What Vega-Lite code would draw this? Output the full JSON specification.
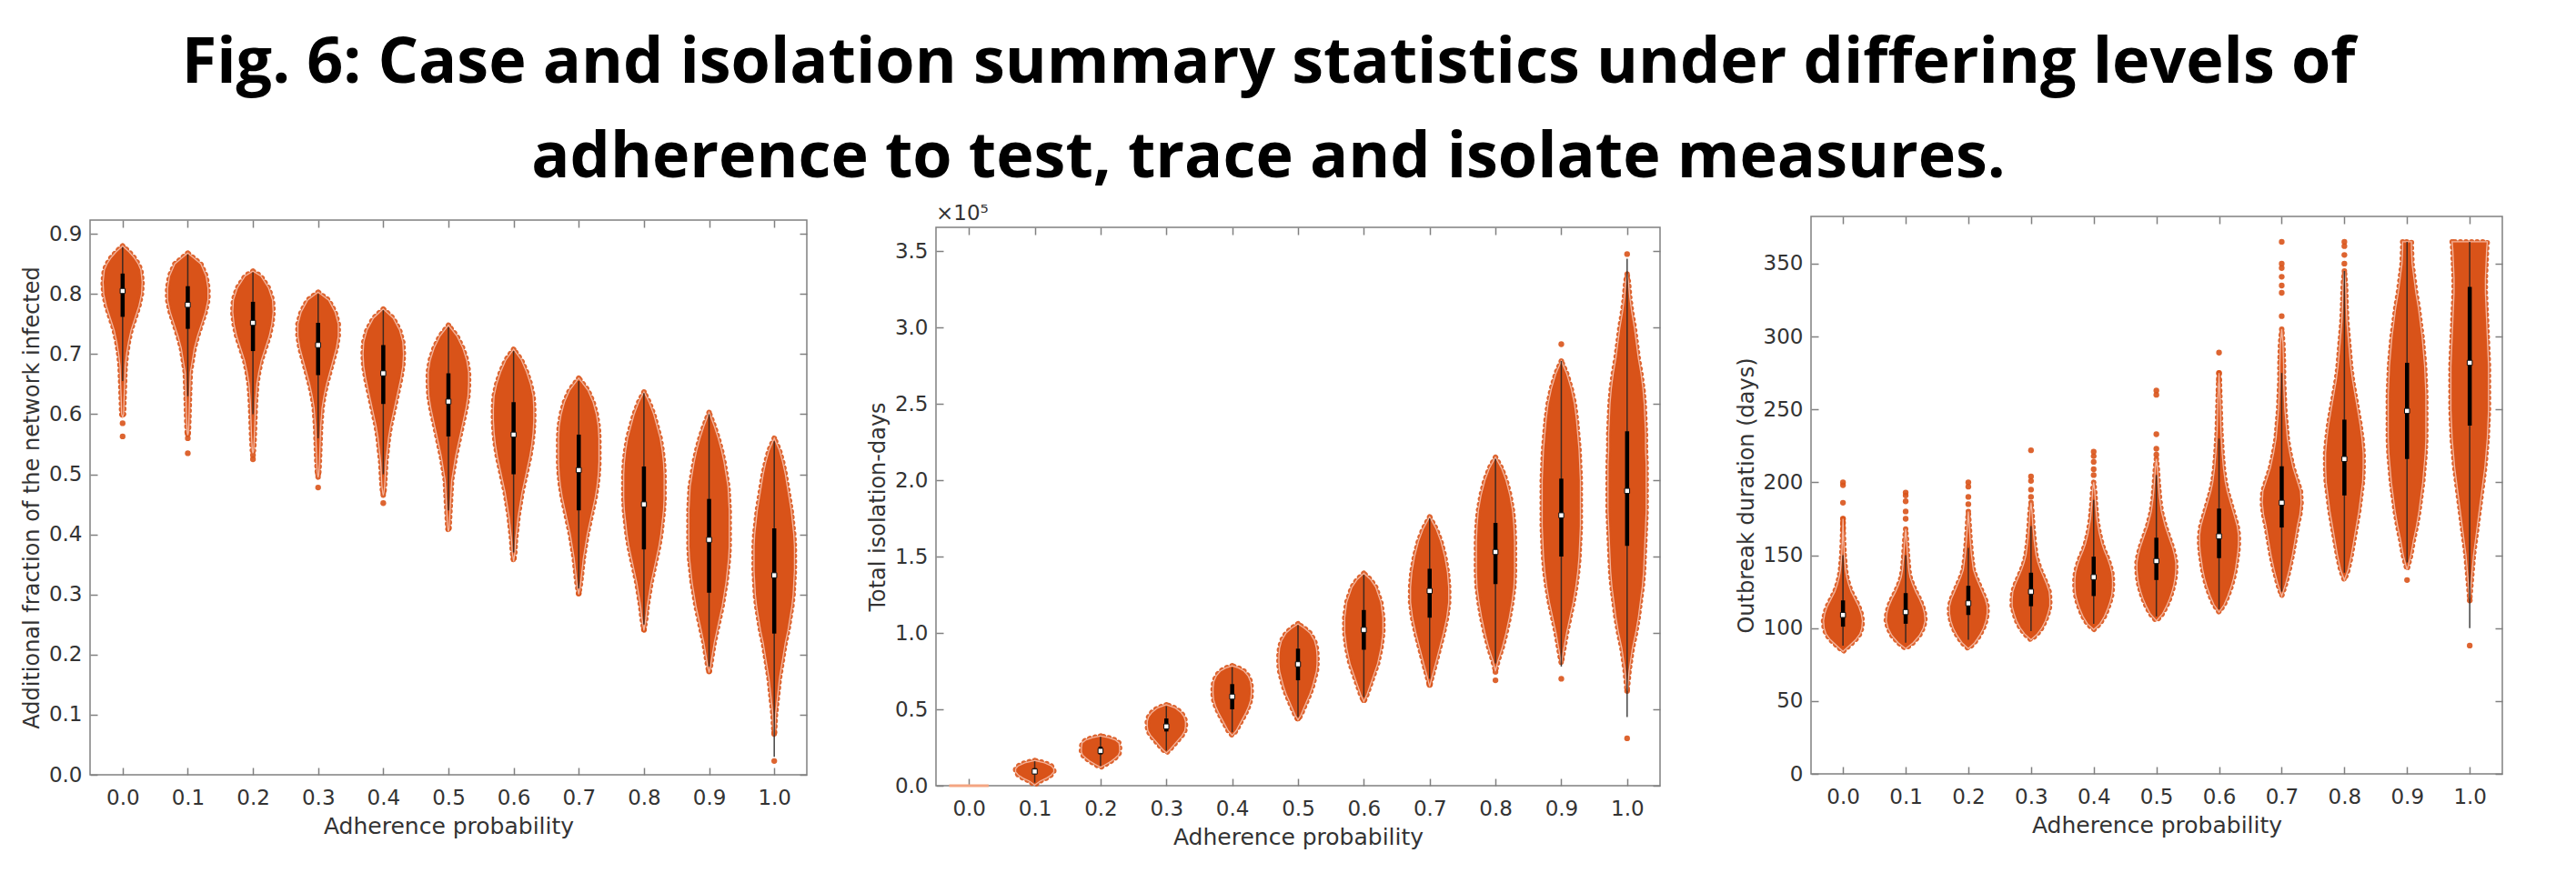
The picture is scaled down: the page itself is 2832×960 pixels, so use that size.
{
"$schema": "https://vega.github.io/schema/vega-lite/v6.json",
"padding": {"left": 22, "top": 34, "right": 20, "bottom": 10},
"background": "white",
"title": {"text": ["Fig. 6: Case and isolation summary statistics under differing levels of", "adherence to test, trace and isolate measures."], "font": "Open Sans", "fontSize": 70, "fontWeight": "bold", "color": "#000000", "anchor": "middle", "lineHeight": 104, "offset": 14, "dx": 7},
"config": {
 "font": "DejaVu Sans",
 "view": {"stroke": "#808080", "strokeWidth": 1.5},
 "axis": {"grid": false, "domain": false, "labelFlush": false, "tickColor": "#808080", "tickWidth": 1.5, "tickSize": -8, "labelFont": "DejaVu Sans", "labelFontSize": 23, "labelColor": "#333333", "titleFont": "DejaVu Sans", "titleFontSize": 25, "titleFontWeight": "normal", "titleColor": "#333333"},
 "axisX": {"labelPadding": 22, "titlePadding": 7},
 "axisY": {"labelPadding": 17, "titlePadding": 6, "titleFontSize": 24}
},
"datasets": {
 "viol1": [
  {"p":0,"v":0.595,"lo":0,"hi":0},{"p":0,"v":0.6,"lo":-0.0015,"hi":0.0015},{"p":0,"v":0.62,"lo":-0.002,"hi":0.002},{"p":0,"v":0.65,"lo":-0.003,"hi":0.003},{"p":0,"v":0.68,"lo":-0.004,"hi":0.004},{"p":0,"v":0.7,"lo":-0.006,"hi":0.006},{"p":0,"v":0.72,"lo":-0.009,"hi":0.009},{"p":0,"v":0.74,"lo":-0.013,"hi":0.013},{"p":0,"v":0.76,"lo":-0.019,"hi":0.019},{"p":0,"v":0.78,"lo":-0.025,"hi":0.025},{"p":0,"v":0.8,"lo":-0.029,"hi":0.029},{"p":0,"v":0.82,"lo":-0.03,"hi":0.03},{"p":0,"v":0.84,"lo":-0.028,"hi":0.028},{"p":0,"v":0.85,"lo":-0.024,"hi":0.024},{"p":0,"v":0.86,"lo":-0.018,"hi":0.018},{"p":0,"v":0.87,"lo":-0.01,"hi":0.01},{"p":0,"v":0.88,"lo":0,"hi":0},
  {"p":0.1,"v":0.565,"lo":0.1,"hi":0.1},{"p":0.1,"v":0.57,"lo":0.099,"hi":0.101},{"p":0.1,"v":0.6,"lo":0.098,"hi":0.102},{"p":0.1,"v":0.64,"lo":0.097,"hi":0.103},{"p":0.1,"v":0.67,"lo":0.096,"hi":0.104},{"p":0.1,"v":0.69,"lo":0.093,"hi":0.107},{"p":0.1,"v":0.71,"lo":0.09,"hi":0.11},{"p":0.1,"v":0.73,"lo":0.085,"hi":0.115},{"p":0.1,"v":0.75,"lo":0.079,"hi":0.121},{"p":0.1,"v":0.77,"lo":0.073,"hi":0.127},{"p":0.1,"v":0.79,"lo":0.069,"hi":0.131},{"p":0.1,"v":0.81,"lo":0.069,"hi":0.131},{"p":0.1,"v":0.83,"lo":0.072,"hi":0.128},{"p":0.1,"v":0.85,"lo":0.08,"hi":0.12},{"p":0.1,"v":0.868,"lo":0.1,"hi":0.1},
  {"p":0.2,"v":0.535,"lo":0.2,"hi":0.2},{"p":0.2,"v":0.54,"lo":0.199,"hi":0.201},{"p":0.2,"v":0.56,"lo":0.198,"hi":0.202},{"p":0.2,"v":0.59,"lo":0.197,"hi":0.203},{"p":0.2,"v":0.62,"lo":0.196,"hi":0.204},{"p":0.2,"v":0.65,"lo":0.194,"hi":0.206},{"p":0.2,"v":0.67,"lo":0.191,"hi":0.209},{"p":0.2,"v":0.69,"lo":0.187,"hi":0.213},{"p":0.2,"v":0.71,"lo":0.181,"hi":0.219},{"p":0.2,"v":0.73,"lo":0.175,"hi":0.225},{"p":0.2,"v":0.75,"lo":0.171,"hi":0.229},{"p":0.2,"v":0.77,"lo":0.169,"hi":0.231},{"p":0.2,"v":0.79,"lo":0.17,"hi":0.23},{"p":0.2,"v":0.81,"lo":0.176,"hi":0.224},{"p":0.2,"v":0.83,"lo":0.188,"hi":0.212},{"p":0.2,"v":0.838,"lo":0.2,"hi":0.2},
  {"p":0.3,"v":0.495,"lo":0.3,"hi":0.3},{"p":0.3,"v":0.5,"lo":0.299,"hi":0.301},{"p":0.3,"v":0.52,"lo":0.298,"hi":0.302},{"p":0.3,"v":0.55,"lo":0.297,"hi":0.303},{"p":0.3,"v":0.58,"lo":0.296,"hi":0.304},{"p":0.3,"v":0.61,"lo":0.294,"hi":0.306},{"p":0.3,"v":0.63,"lo":0.291,"hi":0.309},{"p":0.3,"v":0.65,"lo":0.287,"hi":0.313},{"p":0.3,"v":0.67,"lo":0.282,"hi":0.318},{"p":0.3,"v":0.69,"lo":0.277,"hi":0.323},{"p":0.3,"v":0.71,"lo":0.272,"hi":0.328},{"p":0.3,"v":0.73,"lo":0.269,"hi":0.331},{"p":0.3,"v":0.75,"lo":0.269,"hi":0.331},{"p":0.3,"v":0.77,"lo":0.274,"hi":0.326},{"p":0.3,"v":0.79,"lo":0.284,"hi":0.316},{"p":0.3,"v":0.803,"lo":0.3,"hi":0.3},
  {"p":0.4,"v":0.465,"lo":0.4,"hi":0.4},{"p":0.4,"v":0.47,"lo":0.399,"hi":0.401},{"p":0.4,"v":0.48,"lo":0.398,"hi":0.402},{"p":0.4,"v":0.5,"lo":0.397,"hi":0.403},{"p":0.4,"v":0.52,"lo":0.396,"hi":0.404},{"p":0.4,"v":0.54,"lo":0.394,"hi":0.406},{"p":0.4,"v":0.56,"lo":0.392,"hi":0.408},{"p":0.4,"v":0.58,"lo":0.389,"hi":0.411},{"p":0.4,"v":0.6,"lo":0.385,"hi":0.415},{"p":0.4,"v":0.62,"lo":0.381,"hi":0.419},{"p":0.4,"v":0.64,"lo":0.377,"hi":0.423},{"p":0.4,"v":0.66,"lo":0.373,"hi":0.427},{"p":0.4,"v":0.68,"lo":0.37,"hi":0.43},{"p":0.4,"v":0.7,"lo":0.369,"hi":0.431},{"p":0.4,"v":0.72,"lo":0.37,"hi":0.43},{"p":0.4,"v":0.74,"lo":0.375,"hi":0.425},{"p":0.4,"v":0.76,"lo":0.385,"hi":0.415},{"p":0.4,"v":0.775,"lo":0.4,"hi":0.4},
  {"p":0.5,"v":0.405,"lo":0.5,"hi":0.5},{"p":0.5,"v":0.41,"lo":0.499,"hi":0.501},{"p":0.5,"v":0.43,"lo":0.498,"hi":0.502},{"p":0.5,"v":0.45,"lo":0.497,"hi":0.503},{"p":0.5,"v":0.47,"lo":0.496,"hi":0.504},{"p":0.5,"v":0.49,"lo":0.495,"hi":0.505},{"p":0.5,"v":0.51,"lo":0.492,"hi":0.508},{"p":0.5,"v":0.53,"lo":0.489,"hi":0.511},{"p":0.5,"v":0.55,"lo":0.485,"hi":0.515},{"p":0.5,"v":0.57,"lo":0.481,"hi":0.519},{"p":0.5,"v":0.59,"lo":0.477,"hi":0.523},{"p":0.5,"v":0.61,"lo":0.473,"hi":0.527},{"p":0.5,"v":0.63,"lo":0.47,"hi":0.53},{"p":0.5,"v":0.65,"lo":0.469,"hi":0.531},{"p":0.5,"v":0.67,"lo":0.469,"hi":0.531},{"p":0.5,"v":0.69,"lo":0.472,"hi":0.528},{"p":0.5,"v":0.71,"lo":0.478,"hi":0.522},{"p":0.5,"v":0.73,"lo":0.487,"hi":0.513},{"p":0.5,"v":0.748,"lo":0.5,"hi":0.5},
  {"p":0.6,"v":0.355,"lo":0.6,"hi":0.6},{"p":0.6,"v":0.37,"lo":0.598,"hi":0.602},{"p":0.6,"v":0.39,"lo":0.597,"hi":0.603},{"p":0.6,"v":0.41,"lo":0.595,"hi":0.605},{"p":0.6,"v":0.43,"lo":0.593,"hi":0.607},{"p":0.6,"v":0.45,"lo":0.59,"hi":0.61},{"p":0.6,"v":0.47,"lo":0.587,"hi":0.613},{"p":0.6,"v":0.49,"lo":0.583,"hi":0.617},{"p":0.6,"v":0.51,"lo":0.579,"hi":0.621},{"p":0.6,"v":0.53,"lo":0.575,"hi":0.625},{"p":0.6,"v":0.55,"lo":0.572,"hi":0.628},{"p":0.6,"v":0.57,"lo":0.57,"hi":0.63},{"p":0.6,"v":0.59,"lo":0.569,"hi":0.631},{"p":0.6,"v":0.61,"lo":0.569,"hi":0.631},{"p":0.6,"v":0.63,"lo":0.57,"hi":0.63},{"p":0.6,"v":0.65,"lo":0.574,"hi":0.626},{"p":0.6,"v":0.67,"lo":0.58,"hi":0.62},{"p":0.6,"v":0.69,"lo":0.588,"hi":0.612},{"p":0.6,"v":0.708,"lo":0.6,"hi":0.6},
  {"p":0.7,"v":0.3,"lo":0.7,"hi":0.7},{"p":0.7,"v":0.32,"lo":0.697,"hi":0.703},{"p":0.7,"v":0.34,"lo":0.695,"hi":0.705},{"p":0.7,"v":0.36,"lo":0.693,"hi":0.707},{"p":0.7,"v":0.38,"lo":0.69,"hi":0.71},{"p":0.7,"v":0.4,"lo":0.687,"hi":0.713},{"p":0.7,"v":0.42,"lo":0.683,"hi":0.717},{"p":0.7,"v":0.44,"lo":0.679,"hi":0.721},{"p":0.7,"v":0.46,"lo":0.675,"hi":0.725},{"p":0.7,"v":0.48,"lo":0.672,"hi":0.728},{"p":0.7,"v":0.5,"lo":0.67,"hi":0.73},{"p":0.7,"v":0.52,"lo":0.669,"hi":0.731},{"p":0.7,"v":0.54,"lo":0.669,"hi":0.731},{"p":0.7,"v":0.56,"lo":0.669,"hi":0.731},{"p":0.7,"v":0.58,"lo":0.67,"hi":0.73},{"p":0.7,"v":0.6,"lo":0.673,"hi":0.727},{"p":0.7,"v":0.62,"lo":0.678,"hi":0.722},{"p":0.7,"v":0.64,"lo":0.686,"hi":0.714},{"p":0.7,"v":0.66,"lo":0.7,"hi":0.7},
  {"p":0.8,"v":0.24,"lo":0.8,"hi":0.8},{"p":0.8,"v":0.26,"lo":0.797,"hi":0.803},{"p":0.8,"v":0.28,"lo":0.795,"hi":0.805},{"p":0.8,"v":0.3,"lo":0.792,"hi":0.808},{"p":0.8,"v":0.32,"lo":0.789,"hi":0.811},{"p":0.8,"v":0.34,"lo":0.785,"hi":0.815},{"p":0.8,"v":0.36,"lo":0.781,"hi":0.819},{"p":0.8,"v":0.38,"lo":0.777,"hi":0.823},{"p":0.8,"v":0.4,"lo":0.774,"hi":0.826},{"p":0.8,"v":0.42,"lo":0.772,"hi":0.828},{"p":0.8,"v":0.44,"lo":0.77,"hi":0.83},{"p":0.8,"v":0.46,"lo":0.769,"hi":0.831},{"p":0.8,"v":0.48,"lo":0.769,"hi":0.831},{"p":0.8,"v":0.5,"lo":0.769,"hi":0.831},{"p":0.8,"v":0.52,"lo":0.77,"hi":0.83},{"p":0.8,"v":0.54,"lo":0.772,"hi":0.828},{"p":0.8,"v":0.56,"lo":0.775,"hi":0.825},{"p":0.8,"v":0.58,"lo":0.78,"hi":0.82},{"p":0.8,"v":0.6,"lo":0.785,"hi":0.815},{"p":0.8,"v":0.62,"lo":0.792,"hi":0.808},{"p":0.8,"v":0.637,"lo":0.8,"hi":0.8},
  {"p":0.9,"v":0.17,"lo":0.9,"hi":0.9},{"p":0.9,"v":0.18,"lo":0.898,"hi":0.902},{"p":0.9,"v":0.2,"lo":0.895,"hi":0.905},{"p":0.9,"v":0.22,"lo":0.892,"hi":0.908},{"p":0.9,"v":0.24,"lo":0.888,"hi":0.912},{"p":0.9,"v":0.26,"lo":0.884,"hi":0.916},{"p":0.9,"v":0.28,"lo":0.88,"hi":0.92},{"p":0.9,"v":0.3,"lo":0.877,"hi":0.923},{"p":0.9,"v":0.32,"lo":0.874,"hi":0.926},{"p":0.9,"v":0.34,"lo":0.872,"hi":0.928},{"p":0.9,"v":0.36,"lo":0.87,"hi":0.93},{"p":0.9,"v":0.38,"lo":0.869,"hi":0.931},{"p":0.9,"v":0.4,"lo":0.869,"hi":0.931},{"p":0.9,"v":0.42,"lo":0.869,"hi":0.931},{"p":0.9,"v":0.44,"lo":0.869,"hi":0.931},{"p":0.9,"v":0.46,"lo":0.87,"hi":0.93},{"p":0.9,"v":0.48,"lo":0.871,"hi":0.929},{"p":0.9,"v":0.5,"lo":0.874,"hi":0.926},{"p":0.9,"v":0.52,"lo":0.877,"hi":0.923},{"p":0.9,"v":0.54,"lo":0.881,"hi":0.919},{"p":0.9,"v":0.56,"lo":0.886,"hi":0.914},{"p":0.9,"v":0.58,"lo":0.892,"hi":0.908},{"p":0.9,"v":0.603,"lo":0.9,"hi":0.9},
  {"p":1,"v":0.065,"lo":1,"hi":1},{"p":1,"v":0.08,"lo":0.999,"hi":1.001},{"p":1,"v":0.1,"lo":0.998,"hi":1.002},{"p":1,"v":0.12,"lo":0.996,"hi":1.004},{"p":1,"v":0.14,"lo":0.994,"hi":1.006},{"p":1,"v":0.16,"lo":0.992,"hi":1.008},{"p":1,"v":0.18,"lo":0.989,"hi":1.011},{"p":1,"v":0.2,"lo":0.986,"hi":1.014},{"p":1,"v":0.22,"lo":0.983,"hi":1.017},{"p":1,"v":0.24,"lo":0.979,"hi":1.021},{"p":1,"v":0.26,"lo":0.976,"hi":1.024},{"p":1,"v":0.28,"lo":0.973,"hi":1.027},{"p":1,"v":0.3,"lo":0.971,"hi":1.029},{"p":1,"v":0.32,"lo":0.97,"hi":1.03},{"p":1,"v":0.34,"lo":0.969,"hi":1.031},{"p":1,"v":0.36,"lo":0.969,"hi":1.031},{"p":1,"v":0.38,"lo":0.969,"hi":1.031},{"p":1,"v":0.4,"lo":0.97,"hi":1.03},{"p":1,"v":0.42,"lo":0.972,"hi":1.028},{"p":1,"v":0.44,"lo":0.974,"hi":1.026},{"p":1,"v":0.46,"lo":0.977,"hi":1.023},{"p":1,"v":0.48,"lo":0.98,"hi":1.02},{"p":1,"v":0.5,"lo":0.983,"hi":1.017},{"p":1,"v":0.52,"lo":0.987,"hi":1.013},{"p":1,"v":0.54,"lo":0.992,"hi":1.008},{"p":1,"v":0.56,"lo":1,"hi":1}
 ],
 "box1": [
  {"p":0,"q1":0.762,"med":0.805,"q3":0.834,"wlo":0.655,"whi":0.878},
  {"p":0.1,"q1":0.742,"med":0.782,"q3":0.813,"wlo":0.63,"whi":0.866},
  {"p":0.2,"q1":0.705,"med":0.752,"q3":0.787,"wlo":0.6,"whi":0.836},
  {"p":0.3,"q1":0.665,"med":0.715,"q3":0.752,"wlo":0.56,"whi":0.8},
  {"p":0.4,"q1":0.617,"med":0.668,"q3":0.715,"wlo":0.5,"whi":0.773},
  {"p":0.5,"q1":0.563,"med":0.621,"q3":0.668,"wlo":0.44,"whi":0.745},
  {"p":0.6,"q1":0.5,"med":0.566,"q3":0.62,"wlo":0.37,"whi":0.705},
  {"p":0.7,"q1":0.44,"med":0.507,"q3":0.566,"wlo":0.31,"whi":0.655},
  {"p":0.8,"q1":0.375,"med":0.45,"q3":0.513,"wlo":0.25,"whi":0.635},
  {"p":0.9,"q1":0.303,"med":0.391,"q3":0.459,"wlo":0.18,"whi":0.6},
  {"p":1,"q1":0.235,"med":0.332,"q3":0.41,"wlo":0.03,"whi":0.555}
 ],
 "out1": [
  {"p":0,"v":0.585},{"p":0,"v":0.563},{"p":0,"v":0.6},{"p":0.1,"v":0.535},{"p":0.1,"v":0.56},{"p":0.1,"v":0.567},{"p":0.2,"v":0.525},{"p":0.2,"v":0.532},{"p":0.3,"v":0.478},{"p":0.3,"v":0.5},{"p":0.4,"v":0.452},{"p":0.4,"v":0.47},{"p":0.5,"v":0.41},{"p":0.6,"v":0.36},{"p":0.7,"v":0.302},{"p":0.8,"v":0.242},{"p":0.9,"v":0.172},{"p":1,"v":0.023},{"p":1,"v":0.07}
 ],
 "viol2": [
  {"p":0.1,"v":0.005,"lo":0.1,"hi":0.1},{"p":0.1,"v":0.03,"lo":0.092,"hi":0.108},{"p":0.1,"v":0.05,"lo":0.082,"hi":0.118},{"p":0.1,"v":0.07,"lo":0.075,"hi":0.125},{"p":0.1,"v":0.09,"lo":0.071,"hi":0.129},{"p":0.1,"v":0.11,"lo":0.071,"hi":0.129},{"p":0.1,"v":0.13,"lo":0.075,"hi":0.125},{"p":0.1,"v":0.15,"lo":0.085,"hi":0.115},{"p":0.1,"v":0.165,"lo":0.1,"hi":0.1},
  {"p":0.2,"v":0.12,"lo":0.2,"hi":0.2},{"p":0.2,"v":0.14,"lo":0.192,"hi":0.208},{"p":0.2,"v":0.16,"lo":0.184,"hi":0.216},{"p":0.2,"v":0.18,"lo":0.178,"hi":0.222},{"p":0.2,"v":0.2,"lo":0.173,"hi":0.227},{"p":0.2,"v":0.22,"lo":0.171,"hi":0.229},{"p":0.2,"v":0.25,"lo":0.171,"hi":0.229},{"p":0.2,"v":0.28,"lo":0.172,"hi":0.228},{"p":0.2,"v":0.3,"lo":0.178,"hi":0.222},{"p":0.2,"v":0.315,"lo":0.188,"hi":0.212},{"p":0.2,"v":0.325,"lo":0.2,"hi":0.2},
  {"p":0.3,"v":0.215,"lo":0.3,"hi":0.3},{"p":0.3,"v":0.24,"lo":0.294,"hi":0.306},{"p":0.3,"v":0.27,"lo":0.288,"hi":0.312},{"p":0.3,"v":0.3,"lo":0.282,"hi":0.318},{"p":0.3,"v":0.33,"lo":0.276,"hi":0.324},{"p":0.3,"v":0.36,"lo":0.272,"hi":0.328},{"p":0.3,"v":0.39,"lo":0.271,"hi":0.329},{"p":0.3,"v":0.42,"lo":0.271,"hi":0.329},{"p":0.3,"v":0.45,"lo":0.273,"hi":0.327},{"p":0.3,"v":0.48,"lo":0.278,"hi":0.322},{"p":0.3,"v":0.51,"lo":0.287,"hi":0.313},{"p":0.3,"v":0.53,"lo":0.3,"hi":0.3},
  {"p":0.4,"v":0.33,"lo":0.4,"hi":0.4},{"p":0.4,"v":0.36,"lo":0.394,"hi":0.406},{"p":0.4,"v":0.4,"lo":0.389,"hi":0.411},{"p":0.4,"v":0.44,"lo":0.384,"hi":0.416},{"p":0.4,"v":0.48,"lo":0.379,"hi":0.421},{"p":0.4,"v":0.52,"lo":0.375,"hi":0.425},{"p":0.4,"v":0.56,"lo":0.372,"hi":0.428},{"p":0.4,"v":0.6,"lo":0.371,"hi":0.429},{"p":0.4,"v":0.64,"lo":0.371,"hi":0.429},{"p":0.4,"v":0.68,"lo":0.372,"hi":0.428},{"p":0.4,"v":0.72,"lo":0.376,"hi":0.424},{"p":0.4,"v":0.75,"lo":0.382,"hi":0.418},{"p":0.4,"v":0.77,"lo":0.39,"hi":0.41},{"p":0.4,"v":0.785,"lo":0.4,"hi":0.4},
  {"p":0.5,"v":0.43,"lo":0.5,"hi":0.5},{"p":0.5,"v":0.46,"lo":0.496,"hi":0.504},{"p":0.5,"v":0.5,"lo":0.492,"hi":0.508},{"p":0.5,"v":0.55,"lo":0.487,"hi":0.513},{"p":0.5,"v":0.6,"lo":0.482,"hi":0.518},{"p":0.5,"v":0.65,"lo":0.478,"hi":0.522},{"p":0.5,"v":0.7,"lo":0.475,"hi":0.525},{"p":0.5,"v":0.75,"lo":0.472,"hi":0.528},{"p":0.5,"v":0.8,"lo":0.471,"hi":0.529},{"p":0.5,"v":0.85,"lo":0.471,"hi":0.529},{"p":0.5,"v":0.9,"lo":0.472,"hi":0.528},{"p":0.5,"v":0.95,"lo":0.475,"hi":0.525},{"p":0.5,"v":1.0,"lo":0.482,"hi":0.518},{"p":0.5,"v":1.03,"lo":0.49,"hi":0.51},{"p":0.5,"v":1.06,"lo":0.5,"hi":0.5},
  {"p":0.6,"v":0.55,"lo":0.6,"hi":0.6},{"p":0.6,"v":0.6,"lo":0.595,"hi":0.605},{"p":0.6,"v":0.7,"lo":0.587,"hi":0.613},{"p":0.6,"v":0.8,"lo":0.579,"hi":0.621},{"p":0.6,"v":0.9,"lo":0.574,"hi":0.626},{"p":0.6,"v":1.0,"lo":0.571,"hi":0.629},{"p":0.6,"v":1.1,"lo":0.571,"hi":0.629},{"p":0.6,"v":1.2,"lo":0.574,"hi":0.626},{"p":0.6,"v":1.3,"lo":0.582,"hi":0.618},{"p":0.6,"v":1.35,"lo":0.59,"hi":0.61},{"p":0.6,"v":1.39,"lo":0.6,"hi":0.6},
  {"p":0.7,"v":0.65,"lo":0.7,"hi":0.7},{"p":0.7,"v":0.72,"lo":0.696,"hi":0.704},{"p":0.7,"v":0.8,"lo":0.691,"hi":0.709},{"p":0.7,"v":0.9,"lo":0.685,"hi":0.715},{"p":0.7,"v":1.0,"lo":0.679,"hi":0.721},{"p":0.7,"v":1.1,"lo":0.674,"hi":0.726},{"p":0.7,"v":1.2,"lo":0.671,"hi":0.729},{"p":0.7,"v":1.3,"lo":0.671,"hi":0.729},{"p":0.7,"v":1.4,"lo":0.673,"hi":0.727},{"p":0.7,"v":1.5,"lo":0.677,"hi":0.723},{"p":0.7,"v":1.6,"lo":0.683,"hi":0.717},{"p":0.7,"v":1.68,"lo":0.69,"hi":0.71},{"p":0.7,"v":1.76,"lo":0.7,"hi":0.7},
  {"p":0.8,"v":0.75,"lo":0.8,"hi":0.8},{"p":0.8,"v":0.82,"lo":0.796,"hi":0.804},{"p":0.8,"v":0.9,"lo":0.79,"hi":0.81},{"p":0.8,"v":1.0,"lo":0.784,"hi":0.816},{"p":0.8,"v":1.1,"lo":0.779,"hi":0.821},{"p":0.8,"v":1.2,"lo":0.775,"hi":0.825},{"p":0.8,"v":1.3,"lo":0.772,"hi":0.828},{"p":0.8,"v":1.4,"lo":0.771,"hi":0.829},{"p":0.8,"v":1.5,"lo":0.771,"hi":0.829},{"p":0.8,"v":1.6,"lo":0.771,"hi":0.829},{"p":0.8,"v":1.7,"lo":0.772,"hi":0.828},{"p":0.8,"v":1.8,"lo":0.774,"hi":0.826},{"p":0.8,"v":1.9,"lo":0.778,"hi":0.822},{"p":0.8,"v":2.0,"lo":0.784,"hi":0.816},{"p":0.8,"v":2.08,"lo":0.791,"hi":0.809},{"p":0.8,"v":2.15,"lo":0.8,"hi":0.8},
  {"p":0.9,"v":0.8,"lo":0.9,"hi":0.9},{"p":0.9,"v":0.9,"lo":0.896,"hi":0.904},{"p":0.9,"v":1.0,"lo":0.892,"hi":0.908},{"p":0.9,"v":1.1,"lo":0.887,"hi":0.913},{"p":0.9,"v":1.2,"lo":0.882,"hi":0.918},{"p":0.9,"v":1.3,"lo":0.878,"hi":0.922},{"p":0.9,"v":1.4,"lo":0.875,"hi":0.925},{"p":0.9,"v":1.5,"lo":0.873,"hi":0.927},{"p":0.9,"v":1.6,"lo":0.872,"hi":0.928},{"p":0.9,"v":1.7,"lo":0.871,"hi":0.929},{"p":0.9,"v":1.8,"lo":0.871,"hi":0.929},{"p":0.9,"v":1.9,"lo":0.871,"hi":0.929},{"p":0.9,"v":2.0,"lo":0.871,"hi":0.929},{"p":0.9,"v":2.1,"lo":0.872,"hi":0.928},{"p":0.9,"v":2.2,"lo":0.873,"hi":0.927},{"p":0.9,"v":2.3,"lo":0.875,"hi":0.925},{"p":0.9,"v":2.4,"lo":0.877,"hi":0.923},{"p":0.9,"v":2.5,"lo":0.88,"hi":0.92},{"p":0.9,"v":2.6,"lo":0.885,"hi":0.915},{"p":0.9,"v":2.7,"lo":0.892,"hi":0.908},{"p":0.9,"v":2.78,"lo":0.9,"hi":0.9},
  {"p":1,"v":0.62,"lo":1,"hi":1},{"p":1,"v":0.75,"lo":0.997,"hi":1.003},{"p":1,"v":0.9,"lo":0.992,"hi":1.008},{"p":1,"v":1.0,"lo":0.987,"hi":1.013},{"p":1,"v":1.1,"lo":0.983,"hi":1.017},{"p":1,"v":1.2,"lo":0.98,"hi":1.02},{"p":1,"v":1.3,"lo":0.977,"hi":1.023},{"p":1,"v":1.4,"lo":0.975,"hi":1.025},{"p":1,"v":1.5,"lo":0.974,"hi":1.026},{"p":1,"v":1.6,"lo":0.973,"hi":1.027},{"p":1,"v":1.7,"lo":0.972,"hi":1.028},{"p":1,"v":1.8,"lo":0.971,"hi":1.029},{"p":1,"v":1.9,"lo":0.971,"hi":1.029},{"p":1,"v":2.0,"lo":0.971,"hi":1.029},{"p":1,"v":2.1,"lo":0.971,"hi":1.029},{"p":1,"v":2.2,"lo":0.972,"hi":1.028},{"p":1,"v":2.3,"lo":0.972,"hi":1.028},{"p":1,"v":2.4,"lo":0.973,"hi":1.027},{"p":1,"v":2.5,"lo":0.974,"hi":1.026},{"p":1,"v":2.6,"lo":0.976,"hi":1.024},{"p":1,"v":2.7,"lo":0.979,"hi":1.021},{"p":1,"v":2.8,"lo":0.983,"hi":1.017},{"p":1,"v":2.9,"lo":0.986,"hi":1.014},{"p":1,"v":3.0,"lo":0.989,"hi":1.011},{"p":1,"v":3.1,"lo":0.993,"hi":1.007},{"p":1,"v":3.2,"lo":0.996,"hi":1.004},{"p":1,"v":3.3,"lo":0.998,"hi":1.002},{"p":1,"v":3.35,"lo":1,"hi":1}
 ],
 "box2": [
  {"p":0.1,"q1":0.075,"med":0.093,"q3":0.115,"wlo":0.02,"whi":0.16},
  {"p":0.2,"q1":0.205,"med":0.228,"q3":0.255,"wlo":0.13,"whi":0.32},
  {"p":0.3,"q1":0.355,"med":0.388,"q3":0.44,"wlo":0.23,"whi":0.52},
  {"p":0.4,"q1":0.5,"med":0.583,"q3":0.665,"wlo":0.35,"whi":0.775},
  {"p":0.5,"q1":0.69,"med":0.795,"q3":0.897,"wlo":0.45,"whi":1.05},
  {"p":0.6,"q1":0.89,"med":1.02,"q3":1.15,"wlo":0.58,"whi":1.38},
  {"p":0.7,"q1":1.1,"med":1.275,"q3":1.42,"wlo":0.7,"whi":1.75},
  {"p":0.8,"q1":1.32,"med":1.53,"q3":1.72,"wlo":0.8,"whi":2.14},
  {"p":0.9,"q1":1.5,"med":1.77,"q3":2.01,"wlo":0.78,"whi":2.78},
  {"p":1,"q1":1.57,"med":1.93,"q3":2.32,"wlo":0.45,"whi":3.45}
 ],
 "out2": [
  {"p":0.5,"v":0.44},{"p":0.6,"v":0.56},{"p":0.7,"v":0.66},{"p":0.7,"v":0.68},{"p":0.8,"v":0.69},{"p":0.8,"v":0.745},{"p":0.8,"v":0.8},{"p":0.9,"v":0.7},{"p":0.9,"v":0.84},{"p":0.9,"v":2.73},{"p":0.9,"v":2.89},{"p":1,"v":0.31},{"p":1,"v":0.62},{"p":1,"v":3.32},{"p":1,"v":3.48}
 ],
 "zero2": [{"lo":-0.03,"hi":0.03,"v":0}],
 "viol3": [
  {"p":0,"v":84,"lo":0,"hi":0},{"p":0,"v":88,"lo":-0.01,"hi":0.01},{"p":0,"v":92,"lo":-0.02,"hi":0.02},{"p":0,"v":96,"lo":-0.027,"hi":0.027},{"p":0,"v":100,"lo":-0.03,"hi":0.03},{"p":0,"v":105,"lo":-0.031,"hi":0.031},{"p":0,"v":110,"lo":-0.029,"hi":0.029},{"p":0,"v":115,"lo":-0.025,"hi":0.025},{"p":0,"v":120,"lo":-0.019,"hi":0.019},{"p":0,"v":125,"lo":-0.013,"hi":0.013},{"p":0,"v":130,"lo":-0.009,"hi":0.009},{"p":0,"v":135,"lo":-0.006,"hi":0.006},{"p":0,"v":140,"lo":-0.004,"hi":0.004},{"p":0,"v":150,"lo":-0.002,"hi":0.002},{"p":0,"v":160,"lo":-0.001,"hi":0.001},{"p":0,"v":175,"lo":0,"hi":0},
  {"p":0.1,"v":86,"lo":0.1,"hi":0.1},{"p":0.1,"v":90,"lo":0.088,"hi":0.112},{"p":0.1,"v":95,"lo":0.078,"hi":0.122},{"p":0.1,"v":100,"lo":0.072,"hi":0.128},{"p":0.1,"v":105,"lo":0.069,"hi":0.131},{"p":0.1,"v":110,"lo":0.07,"hi":0.13},{"p":0.1,"v":115,"lo":0.073,"hi":0.127},{"p":0.1,"v":120,"lo":0.078,"hi":0.122},{"p":0.1,"v":125,"lo":0.084,"hi":0.116},{"p":0.1,"v":130,"lo":0.089,"hi":0.111},{"p":0.1,"v":135,"lo":0.093,"hi":0.107},{"p":0.1,"v":140,"lo":0.095,"hi":0.105},{"p":0.1,"v":150,"lo":0.097,"hi":0.103},{"p":0.1,"v":160,"lo":0.0985,"hi":0.1015},{"p":0.1,"v":168,"lo":0.1,"hi":0.1},
  {"p":0.2,"v":86,"lo":0.2,"hi":0.2},{"p":0.2,"v":90,"lo":0.19,"hi":0.21},{"p":0.2,"v":95,"lo":0.182,"hi":0.218},{"p":0.2,"v":100,"lo":0.176,"hi":0.224},{"p":0.2,"v":105,"lo":0.172,"hi":0.228},{"p":0.2,"v":110,"lo":0.17,"hi":0.23},{"p":0.2,"v":115,"lo":0.17,"hi":0.23},{"p":0.2,"v":120,"lo":0.173,"hi":0.227},{"p":0.2,"v":125,"lo":0.178,"hi":0.222},{"p":0.2,"v":130,"lo":0.183,"hi":0.217},{"p":0.2,"v":135,"lo":0.188,"hi":0.212},{"p":0.2,"v":140,"lo":0.192,"hi":0.208},{"p":0.2,"v":150,"lo":0.195,"hi":0.205},{"p":0.2,"v":160,"lo":0.197,"hi":0.203},{"p":0.2,"v":170,"lo":0.1985,"hi":0.2015},{"p":0.2,"v":180,"lo":0.2,"hi":0.2},
  {"p":0.3,"v":92,"lo":0.3,"hi":0.3},{"p":0.3,"v":96,"lo":0.29,"hi":0.31},{"p":0.3,"v":100,"lo":0.283,"hi":0.317},{"p":0.3,"v":105,"lo":0.277,"hi":0.323},{"p":0.3,"v":110,"lo":0.273,"hi":0.327},{"p":0.3,"v":115,"lo":0.27,"hi":0.33},{"p":0.3,"v":120,"lo":0.27,"hi":0.33},{"p":0.3,"v":125,"lo":0.271,"hi":0.329},{"p":0.3,"v":130,"lo":0.275,"hi":0.325},{"p":0.3,"v":135,"lo":0.28,"hi":0.32},{"p":0.3,"v":140,"lo":0.285,"hi":0.315},{"p":0.3,"v":145,"lo":0.289,"hi":0.311},{"p":0.3,"v":150,"lo":0.292,"hi":0.308},{"p":0.3,"v":160,"lo":0.295,"hi":0.305},{"p":0.3,"v":170,"lo":0.297,"hi":0.303},{"p":0.3,"v":180,"lo":0.2985,"hi":0.3015},{"p":0.3,"v":186,"lo":0.3,"hi":0.3},
  {"p":0.4,"v":99,"lo":0.4,"hi":0.4},{"p":0.4,"v":103,"lo":0.39,"hi":0.41},{"p":0.4,"v":108,"lo":0.383,"hi":0.417},{"p":0.4,"v":113,"lo":0.378,"hi":0.422},{"p":0.4,"v":118,"lo":0.374,"hi":0.426},{"p":0.4,"v":123,"lo":0.371,"hi":0.429},{"p":0.4,"v":128,"lo":0.37,"hi":0.43},{"p":0.4,"v":133,"lo":0.37,"hi":0.43},{"p":0.4,"v":138,"lo":0.371,"hi":0.429},{"p":0.4,"v":143,"lo":0.374,"hi":0.426},{"p":0.4,"v":148,"lo":0.378,"hi":0.422},{"p":0.4,"v":153,"lo":0.383,"hi":0.417},{"p":0.4,"v":158,"lo":0.387,"hi":0.413},{"p":0.4,"v":165,"lo":0.391,"hi":0.409},{"p":0.4,"v":175,"lo":0.395,"hi":0.405},{"p":0.4,"v":185,"lo":0.397,"hi":0.403},{"p":0.4,"v":195,"lo":0.3985,"hi":0.4015},{"p":0.4,"v":200,"lo":0.4,"hi":0.4},
  {"p":0.5,"v":105,"lo":0.5,"hi":0.5},{"p":0.5,"v":110,"lo":0.49,"hi":0.51},{"p":0.5,"v":115,"lo":0.484,"hi":0.516},{"p":0.5,"v":120,"lo":0.479,"hi":0.521},{"p":0.5,"v":125,"lo":0.475,"hi":0.525},{"p":0.5,"v":130,"lo":0.472,"hi":0.528},{"p":0.5,"v":135,"lo":0.47,"hi":0.53},{"p":0.5,"v":140,"lo":0.469,"hi":0.531},{"p":0.5,"v":145,"lo":0.469,"hi":0.531},{"p":0.5,"v":150,"lo":0.471,"hi":0.529},{"p":0.5,"v":155,"lo":0.474,"hi":0.526},{"p":0.5,"v":160,"lo":0.478,"hi":0.522},{"p":0.5,"v":165,"lo":0.482,"hi":0.518},{"p":0.5,"v":170,"lo":0.486,"hi":0.514},{"p":0.5,"v":175,"lo":0.489,"hi":0.511},{"p":0.5,"v":180,"lo":0.492,"hi":0.508},{"p":0.5,"v":190,"lo":0.495,"hi":0.505},{"p":0.5,"v":200,"lo":0.497,"hi":0.503},{"p":0.5,"v":210,"lo":0.4985,"hi":0.5015},{"p":0.5,"v":216,"lo":0.5,"hi":0.5},
  {"p":0.6,"v":111,"lo":0.6,"hi":0.6},{"p":0.6,"v":116,"lo":0.592,"hi":0.608},{"p":0.6,"v":122,"lo":0.586,"hi":0.614},{"p":0.6,"v":128,"lo":0.581,"hi":0.619},{"p":0.6,"v":134,"lo":0.577,"hi":0.623},{"p":0.6,"v":140,"lo":0.574,"hi":0.626},{"p":0.6,"v":146,"lo":0.572,"hi":0.628},{"p":0.6,"v":152,"lo":0.57,"hi":0.63},{"p":0.6,"v":158,"lo":0.569,"hi":0.631},{"p":0.6,"v":164,"lo":0.569,"hi":0.631},{"p":0.6,"v":170,"lo":0.571,"hi":0.629},{"p":0.6,"v":176,"lo":0.575,"hi":0.625},{"p":0.6,"v":182,"lo":0.579,"hi":0.621},{"p":0.6,"v":188,"lo":0.583,"hi":0.617},{"p":0.6,"v":194,"lo":0.587,"hi":0.613},{"p":0.6,"v":200,"lo":0.59,"hi":0.61},{"p":0.6,"v":210,"lo":0.593,"hi":0.607},{"p":0.6,"v":220,"lo":0.595,"hi":0.605},{"p":0.6,"v":235,"lo":0.597,"hi":0.603},{"p":0.6,"v":250,"lo":0.598,"hi":0.602},{"p":0.6,"v":265,"lo":0.599,"hi":0.601},{"p":0.6,"v":275,"lo":0.6,"hi":0.6},
  {"p":0.7,"v":122,"lo":0.7,"hi":0.7},{"p":0.7,"v":130,"lo":0.694,"hi":0.706},{"p":0.7,"v":140,"lo":0.688,"hi":0.712},{"p":0.7,"v":150,"lo":0.683,"hi":0.717},{"p":0.7,"v":160,"lo":0.679,"hi":0.721},{"p":0.7,"v":170,"lo":0.675,"hi":0.725},{"p":0.7,"v":178,"lo":0.671,"hi":0.729},{"p":0.7,"v":186,"lo":0.669,"hi":0.731},{"p":0.7,"v":194,"lo":0.67,"hi":0.73},{"p":0.7,"v":202,"lo":0.676,"hi":0.724},{"p":0.7,"v":210,"lo":0.682,"hi":0.718},{"p":0.7,"v":220,"lo":0.687,"hi":0.713},{"p":0.7,"v":230,"lo":0.691,"hi":0.709},{"p":0.7,"v":240,"lo":0.693,"hi":0.707},{"p":0.7,"v":250,"lo":0.695,"hi":0.705},{"p":0.7,"v":260,"lo":0.696,"hi":0.704},{"p":0.7,"v":270,"lo":0.697,"hi":0.703},{"p":0.7,"v":280,"lo":0.697,"hi":0.703},{"p":0.7,"v":295,"lo":0.698,"hi":0.702},{"p":0.7,"v":305,"lo":0.7,"hi":0.7},
  {"p":0.8,"v":133,"lo":0.8,"hi":0.8},{"p":0.8,"v":140,"lo":0.794,"hi":0.806},{"p":0.8,"v":150,"lo":0.789,"hi":0.811},{"p":0.8,"v":160,"lo":0.785,"hi":0.815},{"p":0.8,"v":170,"lo":0.781,"hi":0.819},{"p":0.8,"v":180,"lo":0.777,"hi":0.823},{"p":0.8,"v":190,"lo":0.774,"hi":0.826},{"p":0.8,"v":200,"lo":0.771,"hi":0.829},{"p":0.8,"v":210,"lo":0.77,"hi":0.83},{"p":0.8,"v":220,"lo":0.77,"hi":0.83},{"p":0.8,"v":230,"lo":0.772,"hi":0.828},{"p":0.8,"v":240,"lo":0.775,"hi":0.825},{"p":0.8,"v":250,"lo":0.779,"hi":0.821},{"p":0.8,"v":260,"lo":0.783,"hi":0.817},{"p":0.8,"v":270,"lo":0.787,"hi":0.813},{"p":0.8,"v":280,"lo":0.79,"hi":0.81},{"p":0.8,"v":290,"lo":0.792,"hi":0.808},{"p":0.8,"v":300,"lo":0.794,"hi":0.806},{"p":0.8,"v":310,"lo":0.796,"hi":0.804},{"p":0.8,"v":320,"lo":0.797,"hi":0.803},{"p":0.8,"v":335,"lo":0.798,"hi":0.802},{"p":0.8,"v":345,"lo":0.8,"hi":0.8},
  {"p":0.9,"v":140,"lo":0.9,"hi":0.9},{"p":0.9,"v":150,"lo":0.894,"hi":0.906},{"p":0.9,"v":160,"lo":0.89,"hi":0.91},{"p":0.9,"v":170,"lo":0.885,"hi":0.915},{"p":0.9,"v":180,"lo":0.881,"hi":0.919},{"p":0.9,"v":190,"lo":0.878,"hi":0.922},{"p":0.9,"v":200,"lo":0.875,"hi":0.925},{"p":0.9,"v":210,"lo":0.873,"hi":0.927},{"p":0.9,"v":220,"lo":0.871,"hi":0.929},{"p":0.9,"v":230,"lo":0.87,"hi":0.93},{"p":0.9,"v":240,"lo":0.87,"hi":0.93},{"p":0.9,"v":250,"lo":0.87,"hi":0.93},{"p":0.9,"v":260,"lo":0.87,"hi":0.93},{"p":0.9,"v":270,"lo":0.871,"hi":0.929},{"p":0.9,"v":280,"lo":0.872,"hi":0.928},{"p":0.9,"v":290,"lo":0.874,"hi":0.926},{"p":0.9,"v":300,"lo":0.876,"hi":0.924},{"p":0.9,"v":310,"lo":0.879,"hi":0.921},{"p":0.9,"v":320,"lo":0.882,"hi":0.918},{"p":0.9,"v":330,"lo":0.886,"hi":0.914},{"p":0.9,"v":340,"lo":0.889,"hi":0.911},{"p":0.9,"v":350,"lo":0.892,"hi":0.908},{"p":0.9,"v":360,"lo":0.893,"hi":0.907},{"p":0.9,"v":365,"lo":0.893,"hi":0.907},
  {"p":1,"v":120,"lo":1,"hi":1},{"p":1,"v":130,"lo":0.998,"hi":1.002},{"p":1,"v":140,"lo":0.996,"hi":1.004},{"p":1,"v":150,"lo":0.994,"hi":1.006},{"p":1,"v":160,"lo":0.991,"hi":1.009},{"p":1,"v":170,"lo":0.988,"hi":1.012},{"p":1,"v":180,"lo":0.985,"hi":1.015},{"p":1,"v":190,"lo":0.982,"hi":1.018},{"p":1,"v":200,"lo":0.979,"hi":1.021},{"p":1,"v":210,"lo":0.976,"hi":1.024},{"p":1,"v":220,"lo":0.974,"hi":1.026},{"p":1,"v":230,"lo":0.972,"hi":1.028},{"p":1,"v":240,"lo":0.971,"hi":1.029},{"p":1,"v":250,"lo":0.97,"hi":1.03},{"p":1,"v":260,"lo":0.97,"hi":1.03},{"p":1,"v":270,"lo":0.97,"hi":1.03},{"p":1,"v":280,"lo":0.97,"hi":1.03},{"p":1,"v":290,"lo":0.971,"hi":1.029},{"p":1,"v":300,"lo":0.972,"hi":1.028},{"p":1,"v":310,"lo":0.973,"hi":1.027},{"p":1,"v":320,"lo":0.974,"hi":1.026},{"p":1,"v":330,"lo":0.975,"hi":1.025},{"p":1,"v":340,"lo":0.975,"hi":1.025},{"p":1,"v":350,"lo":0.974,"hi":1.026},{"p":1,"v":360,"lo":0.973,"hi":1.027},{"p":1,"v":365,"lo":0.972,"hi":1.028}
 ],
 "box3": [
  {"p":0,"q1":101,"med":109,"q3":119,"wlo":88,"whi":150},
  {"p":0.1,"q1":103,"med":111,"q3":124,"wlo":90,"whi":150},
  {"p":0.2,"q1":109,"med":117,"q3":129,"wlo":92,"whi":155},
  {"p":0.3,"q1":115,"med":125,"q3":138,"wlo":98,"whi":170},
  {"p":0.4,"q1":122,"med":135,"q3":149,"wlo":103,"whi":188},
  {"p":0.5,"q1":133,"med":146,"q3":162,"wlo":108,"whi":205},
  {"p":0.6,"q1":148,"med":163,"q3":182,"wlo":113,"whi":230},
  {"p":0.7,"q1":169,"med":186,"q3":211,"wlo":125,"whi":275},
  {"p":0.8,"q1":191,"med":216,"q3":243,"wlo":138,"whi":345},
  {"p":0.9,"q1":216,"med":249,"q3":282,"wlo":145,"whi":365},
  {"p":1,"q1":239,"med":282,"q3":334,"wlo":100,"whi":365}
 ],
 "out3": [
  {"p":0,"v":168},{"p":0,"v":172},{"p":0,"v":175},{"p":0,"v":186},{"p":0,"v":198},{"p":0,"v":200},
  {"p":0.1,"v":175},{"p":0.1,"v":180},{"p":0.1,"v":187},{"p":0.1,"v":191},{"p":0.1,"v":193},
  {"p":0.2,"v":185},{"p":0.2,"v":190},{"p":0.2,"v":197},{"p":0.2,"v":200},
  {"p":0.3,"v":190},{"p":0.3,"v":195},{"p":0.3,"v":201},{"p":0.3,"v":204},{"p":0.3,"v":222},
  {"p":0.4,"v":205},{"p":0.4,"v":209},{"p":0.4,"v":214},{"p":0.4,"v":218},{"p":0.4,"v":221},
  {"p":0.5,"v":219},{"p":0.5,"v":223},{"p":0.5,"v":233},{"p":0.5,"v":260},{"p":0.5,"v":263},
  {"p":0.6,"v":262},{"p":0.6,"v":270},{"p":0.6,"v":275},{"p":0.6,"v":289},
  {"p":0.7,"v":314},{"p":0.7,"v":330},{"p":0.7,"v":335},{"p":0.7,"v":341},{"p":0.7,"v":347},{"p":0.7,"v":350},{"p":0.7,"v":365},
  {"p":0.8,"v":350},{"p":0.8,"v":356},{"p":0.8,"v":362},{"p":0.8,"v":365},
  {"p":0.9,"v":133},{"p":1,"v":88},{"p":1,"v":119}
 ]
},
"align": "each",
"spacing": 63,
"hconcat": [
 {"bounds": "flush", "align": "each", "spacing": 3, "vconcat": [
  {"width": 788, "height": 1, "view": {"stroke": "transparent"}, "data": {"values": []}, "mark": {"type": "point", "opacity": 0}},
  {"width": 788, "height": 610,
   "layer": [
    {"data": {"name": "out1"}, "mark": {"type": "circle", "color": "#D95319", "size": 40, "opacity": 0.9},
     "encoding": {"x": {"field": "p", "type": "quantitative", "axis": null}, "y": {"field": "v", "type": "quantitative", "axis": null}}},
    {"data": {"name": "viol1"}, "mark": {"type": "area", "orient": "horizontal", "color": "#D95319", "stroke": "#D95319", "strokeWidth": 6, "strokeDash": [0.1, 6], "strokeCap": "round", "strokeOpacity": 0.9, "fillOpacity": 1},
     "encoding": {
      "y": {"field": "v", "type": "quantitative", "scale": {"domain": [0, 0.923], "nice": false, "zero": false}, "axis": {"title": "Additional fraction of the network infected", "values": [0, 0.1, 0.2, 0.3, 0.4, 0.5, 0.6, 0.7, 0.8, 0.9], "format": ".1f"}},
      "x": {"field": "lo", "type": "quantitative", "scale": {"domain": [-0.05, 1.05], "nice": false, "zero": false}, "axis": {"title": "Adherence probability", "values": [0, 0.1, 0.2, 0.3, 0.4, 0.5, 0.6, 0.7, 0.8, 0.9, 1], "format": ".1f"}},
      "x2": {"field": "hi"},
      "detail": {"field": "p", "type": "nominal"}}},
    {"data": {"name": "viol1"}, "mark": {"type": "area", "orient": "horizontal", "filled": false, "color": "#F5B49B", "strokeWidth": 1.3},
     "encoding": {"y": {"field": "v", "type": "quantitative", "axis": null}, "x": {"field": "lo", "type": "quantitative", "axis": null}, "x2": {"field": "hi"}, "detail": {"field": "p", "type": "nominal"}}},
    {"data": {"name": "box1"}, "mark": {"type": "rule", "color": "#222222", "strokeWidth": 1.5, "opacity": 0.85},
     "encoding": {"x": {"field": "p", "type": "quantitative", "axis": {"orient": "top", "labels": false, "title": null, "values": [0, 0.1, 0.2, 0.3, 0.4, 0.5, 0.6, 0.7, 0.8, 0.9, 1]}}, "y": {"field": "wlo", "type": "quantitative", "axis": {"orient": "right", "labels": false, "title": null, "values": [0, 0.1, 0.2, 0.3, 0.4, 0.5, 0.6, 0.7, 0.8, 0.9]}}, "y2": {"field": "whi"}}},
    {"data": {"name": "box1"}, "mark": {"type": "rule", "color": "#000000", "strokeWidth": 4.5},
     "encoding": {"x": {"field": "p", "type": "quantitative", "axis": null}, "y": {"field": "q1", "type": "quantitative", "axis": null}, "y2": {"field": "q3"}}},
    {"data": {"name": "box1"}, "mark": {"type": "square", "fill": "#ffffff", "stroke": "#111111", "strokeWidth": 1, "size": 30, "opacity": 1},
     "encoding": {"x": {"field": "p", "type": "quantitative", "axis": null}, "y": {"field": "med", "type": "quantitative", "axis": null}}}
   ],
   "resolve": {"axis": {"x": "independent", "y": "independent"}}
  }
 ]},
 {"align": "each", "spacing": 80, "hconcat": [
  {"bounds": "flush", "align": "each", "spacing": 11, "vconcat": [
   {"width": 796, "height": 1, "view": {"stroke": "transparent"}, "data": {"values": []}, "mark": {"type": "point", "opacity": 0}},
   {"width": 796, "height": 614,
    "title": {"text": "×10⁵", "anchor": "start", "frame": "group", "font": "DejaVu Sans", "fontSize": 23, "fontWeight": "normal", "color": "#333333", "offset": 2},
    "layer": [
     {"data": {"name": "zero2"}, "mark": {"type": "rule", "color": "#F4A582", "strokeWidth": 3},
      "encoding": {"x": {"field": "lo", "type": "quantitative", "axis": null}, "x2": {"field": "hi"}, "y": {"field": "v", "type": "quantitative", "axis": null}}},
     {"data": {"name": "out2"}, "mark": {"type": "circle", "color": "#D95319", "size": 40, "opacity": 0.9},
      "encoding": {"x": {"field": "p", "type": "quantitative", "axis": null}, "y": {"field": "v", "type": "quantitative", "axis": null}}},
     {"data": {"name": "viol2"}, "mark": {"type": "area", "orient": "horizontal", "color": "#D95319", "stroke": "#D95319", "strokeWidth": 6, "strokeDash": [0.1, 6], "strokeCap": "round", "strokeOpacity": 0.9, "fillOpacity": 1},
      "encoding": {
       "y": {"field": "v", "type": "quantitative", "scale": {"domain": [0, 3.655], "nice": false, "zero": false}, "axis": {"title": "Total isolation-days", "values": [0, 0.5, 1, 1.5, 2, 2.5, 3, 3.5], "format": ".1f"}},
       "x": {"field": "lo", "type": "quantitative", "scale": {"domain": [-0.05, 1.05], "nice": false, "zero": false}, "axis": {"title": "Adherence probability", "values": [0, 0.1, 0.2, 0.3, 0.4, 0.5, 0.6, 0.7, 0.8, 0.9, 1], "format": ".1f"}},
       "x2": {"field": "hi"},
       "detail": {"field": "p", "type": "nominal"}}},
     {"data": {"name": "viol2"}, "mark": {"type": "area", "orient": "horizontal", "filled": false, "color": "#F5B49B", "strokeWidth": 1.3},
      "encoding": {"y": {"field": "v", "type": "quantitative", "axis": null}, "x": {"field": "lo", "type": "quantitative", "axis": null}, "x2": {"field": "hi"}, "detail": {"field": "p", "type": "nominal"}}},
     {"data": {"name": "box2"}, "mark": {"type": "rule", "color": "#222222", "strokeWidth": 1.5, "opacity": 0.85},
      "encoding": {"x": {"field": "p", "type": "quantitative", "axis": {"orient": "top", "labels": false, "title": null, "values": [0, 0.1, 0.2, 0.3, 0.4, 0.5, 0.6, 0.7, 0.8, 0.9, 1]}}, "y": {"field": "wlo", "type": "quantitative", "axis": {"orient": "right", "labels": false, "title": null, "values": [0, 0.5, 1, 1.5, 2, 2.5, 3, 3.5]}}, "y2": {"field": "whi"}}},
     {"data": {"name": "box2"}, "mark": {"type": "rule", "color": "#000000", "strokeWidth": 4.5},
      "encoding": {"x": {"field": "p", "type": "quantitative", "axis": null}, "y": {"field": "q1", "type": "quantitative", "axis": null}, "y2": {"field": "q3"}}},
     {"data": {"name": "box2"}, "mark": {"type": "square", "fill": "#ffffff", "stroke": "#111111", "strokeWidth": 1, "size": 30, "opacity": 1},
      "encoding": {"x": {"field": "p", "type": "quantitative", "axis": null}, "y": {"field": "med", "type": "quantitative", "axis": null}}}
    ],
    "resolve": {"axis": {"x": "independent", "y": "independent"}}
   }
  ]},
  {"width": 760, "height": 613,
   "layer": [
    {"data": {"name": "out3"}, "mark": {"type": "circle", "color": "#D95319", "size": 40, "opacity": 0.9},
     "encoding": {"x": {"field": "p", "type": "quantitative", "axis": null}, "y": {"field": "v", "type": "quantitative", "axis": null}}},
    {"data": {"name": "viol3"}, "mark": {"type": "area", "orient": "horizontal", "color": "#D95319", "stroke": "#D95319", "strokeWidth": 6, "strokeDash": [0.1, 6], "strokeCap": "round", "strokeOpacity": 0.9, "fillOpacity": 1},
     "encoding": {
      "y": {"field": "v", "type": "quantitative", "scale": {"domain": [0, 382.4], "nice": false, "zero": false}, "axis": {"title": "Outbreak duration (days)", "values": [0, 50, 100, 150, 200, 250, 300, 350], "format": "d"}},
      "x": {"field": "lo", "type": "quantitative", "scale": {"domain": [-0.051, 1.052], "nice": false, "zero": false}, "axis": {"title": "Adherence probability", "values": [0, 0.1, 0.2, 0.3, 0.4, 0.5, 0.6, 0.7, 0.8, 0.9, 1], "format": ".1f"}},
      "x2": {"field": "hi"},
      "detail": {"field": "p", "type": "nominal"}}},
    {"data": {"name": "viol3"}, "mark": {"type": "area", "orient": "horizontal", "filled": false, "color": "#F5B49B", "strokeWidth": 1.3},
     "encoding": {"y": {"field": "v", "type": "quantitative", "axis": null}, "x": {"field": "lo", "type": "quantitative", "axis": null}, "x2": {"field": "hi"}, "detail": {"field": "p", "type": "nominal"}}},
    {"data": {"name": "box3"}, "mark": {"type": "rule", "color": "#222222", "strokeWidth": 1.5, "opacity": 0.85},
     "encoding": {"x": {"field": "p", "type": "quantitative", "axis": {"orient": "top", "labels": false, "title": null, "values": [0, 0.1, 0.2, 0.3, 0.4, 0.5, 0.6, 0.7, 0.8, 0.9, 1]}}, "y": {"field": "wlo", "type": "quantitative", "axis": {"orient": "right", "labels": false, "title": null, "values": [0, 50, 100, 150, 200, 250, 300, 350]}}, "y2": {"field": "whi"}}},
    {"data": {"name": "box3"}, "mark": {"type": "rule", "color": "#000000", "strokeWidth": 4.5},
     "encoding": {"x": {"field": "p", "type": "quantitative", "axis": null}, "y": {"field": "q1", "type": "quantitative", "axis": null}, "y2": {"field": "q3"}}},
    {"data": {"name": "box3"}, "mark": {"type": "square", "fill": "#ffffff", "stroke": "#111111", "strokeWidth": 1, "size": 30, "opacity": 1},
     "encoding": {"x": {"field": "p", "type": "quantitative", "axis": null}, "y": {"field": "med", "type": "quantitative", "axis": null}}}
   ],
   "resolve": {"axis": {"x": "independent", "y": "independent"}}
  }
 ]}
]
}
